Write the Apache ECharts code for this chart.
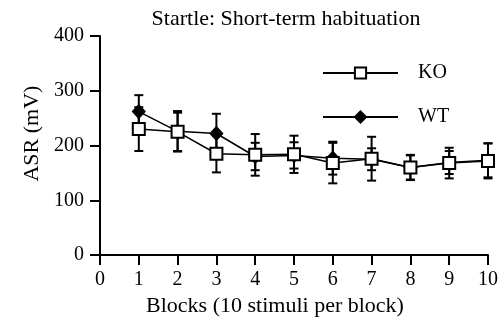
<!DOCTYPE html>
<html>
<head>
<meta charset="utf-8">
<script src="https://cdn.jsdelivr.net/npm/echarts@6/dist/echarts.min.js"></script>
<style>
  html, body { margin: 0; padding: 0; background: #fff; }
  #chart { width: 504px; height: 322px; }
</style>
</head>
<body>
<div id="chart"></div>
<script>
// Blocks of 10 startle stimuli each
const blocks = [1, 2, 3, 4, 5, 6, 7, 8, 9, 10];
// Mean acoustic startle response (mV) and SEM per block
const koMean = [230, 225, 185, 183, 184, 168, 176, 160, 168, 172];
const koSem  = [40, 35, 34, 38, 34, 37, 40, 23, 28, 32];
const wtMean = [262, 226, 222, 180, 182, 177, 175, 160, 169, 173];
const wtSem  = [30, 37, 36, 25, 24, 30, 20, 22, 21, 31];
const yTicks = [0, 100, 200, 300, 400];

const FONT = '"Liberation Serif", "Times New Roman", serif';

function pairs(xs, ys) { return xs.map((x, i) => [x, ys[i]]); }
function errRows(xs, m, s) { return xs.map((x, i) => [x, m[i] - s[i], m[i] + s[i]]); }

function errorBars(name, rows) {
  return {
    type: 'custom',
    name: name + ' SEM',
    data: rows,
    z: 1,
    silent: true,
    renderItem: function (params, api) {
      const x = api.value(0);
      const lo = api.coord([x, api.value(1)]);
      const hi = api.coord([x, api.value(2)]);
      const w = 4.5;
      const style = { stroke: '#000', lineWidth: 2, fill: null };
      return {
        type: 'group',
        children: [
          { type: 'line', shape: { x1: lo[0], y1: lo[1], x2: hi[0], y2: hi[1] }, style },
          { type: 'line', shape: { x1: lo[0] - w, y1: lo[1], x2: lo[0] + w, y2: lo[1] }, style },
          { type: 'line', shape: { x1: hi[0] - w, y1: hi[1], x2: hi[0] + w, y2: hi[1] }, style }
        ]
      };
    }
  };
}

function legendFor(name, top) {
  return {
    orient: 'vertical',
    left: 322, top: top, padding: 0,
    itemWidth: 75, itemHeight: 14,
    textStyle: { fontFamily: FONT, fontSize: 20, color: '#000', padding: [0, 0, 0, 15] },
    data: [name]
  };
}

const chart = echarts.init(document.getElementById('chart'), null, { renderer: 'canvas' });
chart.setOption({
  animation: false,
  backgroundColor: '#fff',
  textStyle: { fontFamily: FONT, color: '#000' },
  title: {
    text: 'Startle: Short-term habituation',
    left: 281, top: 3, textAlign: 'center',
    textStyle: { fontFamily: FONT, fontWeight: 'normal', fontSize: 22, color: '#000' }
  },
  legend: [legendFor('KO', 63), legendFor('WT', 107)],
  grid: { left: 100, right: 16, top: 36, bottom: 59, containLabel: false },
  xAxis: {
    type: 'value', min: 0, max: 10, interval: 1,
    name: 'Blocks (10 stimuli per block)', nameLocation: 'middle', nameGap: 35,
    nameTextStyle: { fontFamily: FONT, fontSize: 22, color: '#000', padding: [0, 38, 0, 0] },
    axisLine: { lineStyle: { color: '#000', width: 2 } },
    axisTick: { show: true, inside: false, length: 10, lineStyle: { color: '#000', width: 2 } },
    axisLabel: { fontFamily: FONT, fontSize: 20, color: '#000', margin: 15 },
    splitLine: { show: false }
  },
  yAxis: {
    type: 'value', min: 0, max: 400, interval: 100,
    name: 'ASR (mV)', nameLocation: 'middle', nameGap: 52,
    nameTextStyle: { fontFamily: FONT, fontSize: 22, color: '#000', padding: [0, 0, 0, 24] },
    axisLine: { show: true, lineStyle: { color: '#000', width: 2 } },
    axisTick: { show: true, inside: false, length: 10, lineStyle: { color: '#000', width: 2 } },
    axisLabel: { fontFamily: FONT, fontSize: 20, color: '#000', margin: 16,
      formatter: v => yTicks.includes(v) ? String(v) : '' },
    splitLine: { show: false }
  },
  series: [
    errorBars('WT', errRows(blocks, wtMean, wtSem)),
    errorBars('KO', errRows(blocks, koMean, koSem)),
    {
      name: 'WT', type: 'line', data: pairs(blocks, wtMean), z: 3,
      symbol: 'diamond', symbolSize: [13, 14],
      lineStyle: { color: '#000', width: 1.5 },
      itemStyle: { color: '#000', borderColor: '#000', borderWidth: 1 }
    },
    {
      name: 'KO', type: 'line', data: pairs(blocks, koMean), z: 4,
      symbol: 'rect', symbolSize: 12,
      lineStyle: { color: '#000', width: 1.5 },
      itemStyle: { color: '#fff', borderColor: '#000', borderWidth: 2 }
    }
  ]
});
</script>
</body>
</html>
